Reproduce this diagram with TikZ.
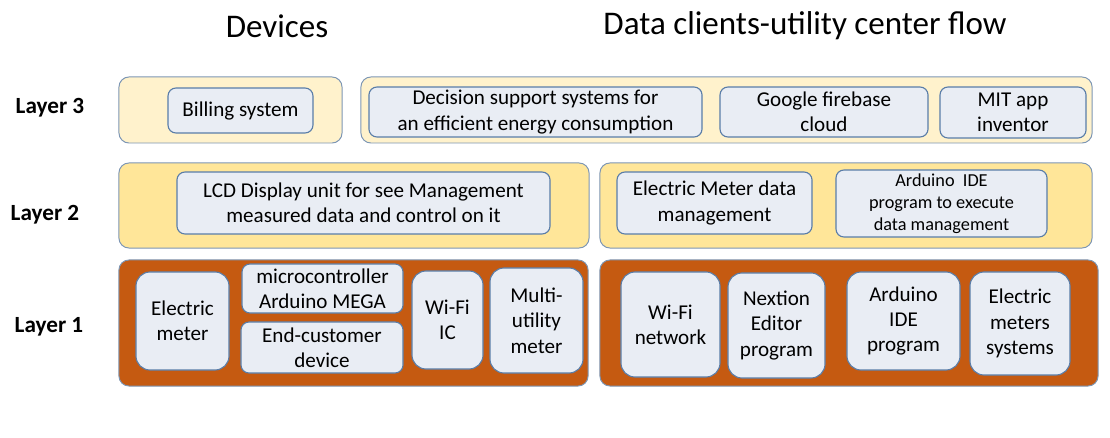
\documentclass[tikz,border=0pt]{standalone}
\usepackage{fontspec}
\setmainfont{Carlito}
\usepackage{tikz}

\definecolor{layerline}{RGB}{125,150,180}
\definecolor{boxline}{RGB}{90,125,168}
\definecolor{boxfill}{RGB}{233,237,244}
\definecolor{layerthree}{RGB}{255,242,204}
\definecolor{layertwo}{RGB}{255,230,153}
\definecolor{layerone}{RGB}{197,90,17}

\begin{document}
\begin{tikzpicture}[x=0.025cm, y=-0.025cm,
        layerbox/.style={draw=layerline, line width=0.7pt, rounded corners=0.25cm, inner sep=0pt},
        itembox/.style={draw=boxline, fill=boxfill, line width=0.8pt, rounded corners=0.2cm,
                inner sep=0pt, align=center, font=\fontsize{15}{18}\selectfont},
        basebox/.style={itembox, rounded corners=0.35cm},
        layername/.style={font=\fontsize{16.5}{19}\selectfont\bfseries},
        heading/.style={font=\fontsize{23.5}{28}\selectfont}]
        \useasboundingbox (0,0) rectangle (1110,438);

        % headings
        \node [heading] (devices) at (277,26) {Devices};
        \node [heading] (flow) at (805,26) {Data clients-utility center flow};

        % layer names
        \node [layername] (l3) at (50,108) {Layer 3};
        \node [layername] (l2) at (45,215) {Layer 2};
        \node [layername] (l1) at (49,327) {Layer 1};

        % layer 3
        \node [layerbox, fill=layerthree, minimum width=5.575cm, minimum height=1.65cm] (devthree) at (230.5,110) {};
        \node [layerbox, fill=layerthree, minimum width=18.275cm, minimum height=1.65cm] (flowthree) at (726.5,110) {};
        \node [itembox, minimum width=3.625cm, minimum height=1.125cm] (billing) at (240.5,110.5) {Billing system};
        \node [itembox, minimum width=8.325cm, minimum height=1.25cm] (decision) at (535.5,112) {Decision support systems for\\an efficient energy consumption};
        \node [itembox, minimum width=5.2cm, minimum height=1.25cm] (firebase) at (824,112) {Google firebase\\cloud};
        \node [itembox, minimum width=3.65cm, minimum height=1.275cm] (mitapp) at (1013,112.5) {MIT app\\inventor};

        % layer 2
        \node [layerbox, fill=layertwo, minimum width=11.75cm, minimum height=2.125cm] (devtwo) at (354,205.5) {};
        \node [layerbox, fill=layertwo, minimum width=12.3cm, minimum height=2.125cm] (flowtwo) at (846,205.5) {};
        \node [itembox, minimum width=9.325cm, minimum height=1.55cm] (lcd) at (363.5,203) {LCD Display unit for see Management\\measured data and control on it};
        \node [itembox, minimum width=4.875cm, minimum height=1.55cm] (meterdata) at (714.5,203) {Electric Meter data\\management};
        \node [itembox, minimum width=5.275cm, minimum height=1.675cm, font=\fontsize{13}{15.5}\selectfont] (idetwo) at (941.5,203.5) {Arduino\ \ IDE\\program to execute\\data management};

        % layer 1
        \node [layerbox, fill=layerone, minimum width=11.725cm, minimum height=3.15cm] (devone) at (353.5,323) {};
        \node [layerbox, fill=layerone, minimum width=12.45cm, minimum height=3.15cm] (flowone) at (849,323) {};
        \node [basebox, minimum width=2.325cm, minimum height=2.45cm] (emeter) at (182.5,321) {Electric\\meter};
        \node [itembox, minimum width=4.025cm, minimum height=1.225cm] (mcu) at (322.5,288.5) {microcontroller\\Arduino MEGA};
        \node [itembox, minimum width=4.05cm, minimum height=1.275cm] (enddev) at (322,347.5) {End-customer\\device};
        \node [basebox, minimum width=1.775cm, minimum height=2.45cm] (wifiic) at (447.5,320) {Wi-Fi\\IC};
        \node [basebox, minimum width=2.325cm, minimum height=2.625cm] (multi) at (536.5,320.5) {Multi-\\utility\\meter};
        \node [basebox, minimum width=2.475cm, minimum height=2.625cm] (wifinet) at (670.5,324.5) {Wi-Fi\\network};
        \node [basebox, minimum width=2.425cm, minimum height=2.625cm] (nextion) at (776.5,325.5) {Nextion\\Editor\\program};
        \node [basebox, minimum width=2.825cm, minimum height=2.45cm] (ideone) at (903.5,321) {Arduino\\IDE\\program};
        \node [basebox, minimum width=2.5cm, minimum height=2.575cm] (msystems) at (1020,323.5) {Electric\\meters\\systems};
\end{tikzpicture}
\end{document}
